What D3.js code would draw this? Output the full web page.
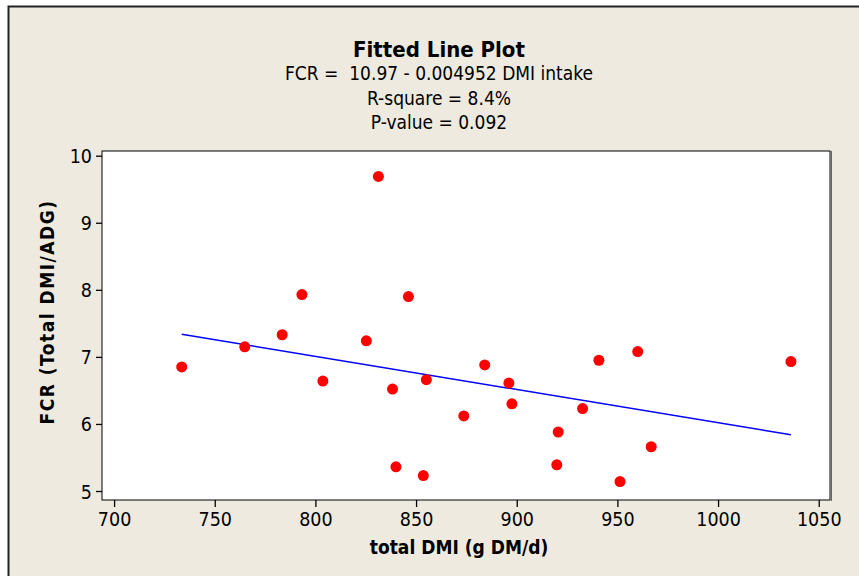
<!DOCTYPE html>
<html>
<head>
<meta charset="utf-8">
<script src="https://cdn.jsdelivr.net/npm/d3@7"></script>
<style>
  html, body { margin: 0; padding: 0; background: #fff; }
  svg { display: block; font-family: "DejaVu Sans Condensed", "DejaVu Sans", sans-serif; }
</style>
</head>
<body>
<svg id="chart" width="859" height="576"></svg>
<script>
// total DMI (g DM/d)
const dmi = [733.6, 764.9, 783.5, 793.3, 803.7, 831.3, 825.3, 846.2, 838.3, 855.1, 873.7, 840.0,
  853.6, 884.1, 896.1, 897.6, 920.6, 919.9, 932.7, 940.8, 960.1, 966.8, 951.3, 1036.2];
// FCR (Total DMI/ADG)
const fcr = [6.85, 7.15, 7.33, 7.93, 6.64, 9.69, 7.24, 7.90, 6.52, 6.66, 6.12, 5.36,
  5.23, 6.88, 6.61, 6.30, 5.88, 5.39, 6.23, 6.95, 7.08, 5.66, 5.14, 6.93];

const xTicks = [700, 750, 800, 850, 900, 950, 1000, 1050];
const yTicks = [5, 6, 7, 8, 9, 10];
const intercept = 10.97;
const slope = -0.004952;
const titleLines = ["FCR =  10.97 - 0.004952 DMI intake", "R-square = 8.4%", "P-value = 0.092"];

const svg = d3.select("#chart");
const plot = { left: 102, top: 151, right: 830, bottom: 500 };

// figure background + frame of the graph window
svg.append("rect").attr("x", 8).attr("y", 6).attr("width", 851).attr("height", 570).attr("fill", "#eeeae0");
svg.append("path").attr("d", "M8.5,576 V6.5 H859").attr("fill", "none").attr("stroke", "#222").attr("stroke-width", 2);

const x = d3.scaleLinear().domain([694, 1055.6]).range([plot.left, plot.right]);
const y = d3.scaleLinear().domain([4.866, 10.07]).range([plot.bottom, plot.top]);

svg.append("rect")
  .attr("x", plot.left).attr("y", plot.top)
  .attr("width", plot.right - plot.left).attr("height", plot.bottom - plot.top)
  .attr("fill", "#fff").attr("stroke", "#000").attr("stroke-width", 1);
svg.append("line")
  .attr("x1", plot.right + 1.5).attr("x2", plot.right + 1.5)
  .attr("y1", plot.top).attr("y2", plot.bottom + 1)
  .attr("stroke", "#666").attr("stroke-width", 1);

const xAxis = svg.append("g")
  .attr("transform", `translate(0,${plot.bottom})`)
  .call(d3.axisBottom(x).tickValues(xTicks).tickSize(7).tickPadding(5).tickFormat(d3.format("d")));
const yAxis = svg.append("g")
  .attr("transform", `translate(${plot.left},0)`)
  .call(d3.axisLeft(y).tickValues(yTicks).tickSize(6).tickPadding(4).tickFormat(d3.format("d")));

[xAxis, yAxis].forEach(a => {
  a.select(".domain").remove();
  a.selectAll(".tick line").attr("stroke", "#000").attr("stroke-width", 1.3);
  a.selectAll(".tick text").attr("fill", "#000").attr("font-size", 19.5)
    .attr("font-family", "'DejaVu Sans Condensed', 'DejaVu Sans', sans-serif");
});
yAxis.selectAll(".tick text").attr("dy", "0.36em");

// fitted line
const xmin = d3.min(dmi), xmax = d3.max(dmi);
svg.append("path")
  .datum([xmin, xmax])
  .attr("fill", "none")
  .attr("stroke", "#0000ff")
  .attr("stroke-width", 1.5)
  .attr("d", d3.line().x(d => x(d)).y(d => y(intercept + slope * d)));

// observations
svg.append("g").selectAll("circle")
  .data(d3.zip(dmi, fcr))
  .enter()
  .append("circle")
  .attr("cx", d => x(d[0]))
  .attr("cy", d => y(d[1]))
  .attr("r", 5.5)
  .attr("fill", "#ff0000");

// titles
svg.append("text")
  .attr("x", 439).attr("y", 57)
  .attr("text-anchor", "middle")
  .attr("font-size", 22).attr("font-weight", "bold")
  .text("Fitted Line Plot");

svg.selectAll("text.sub")
  .data(titleLines)
  .enter()
  .append("text")
  .attr("class", "sub")
  .attr("x", 439)
  .attr("y", (d, i) => 80 + i * 24.5)
  .attr("text-anchor", "middle")
  .attr("font-size", 19)
  .attr("xml:space", "preserve")
  .style("white-space", "pre")
  .text(d => d);

svg.append("text")
  .attr("x", 459).attr("y", 554)
  .attr("text-anchor", "middle")
  .attr("font-size", 19).attr("font-weight", "bold")
  .text("total DMI (g DM/d)");

svg.append("text")
  .attr("transform", "translate(54,312) rotate(-90)")
  .attr("text-anchor", "middle")
  .attr("font-size", 19).attr("font-weight", "bold")
  .attr("letter-spacing", 1.5)
  .text("FCR (Total DMI/ADG)");
</script>
</body>
</html>
